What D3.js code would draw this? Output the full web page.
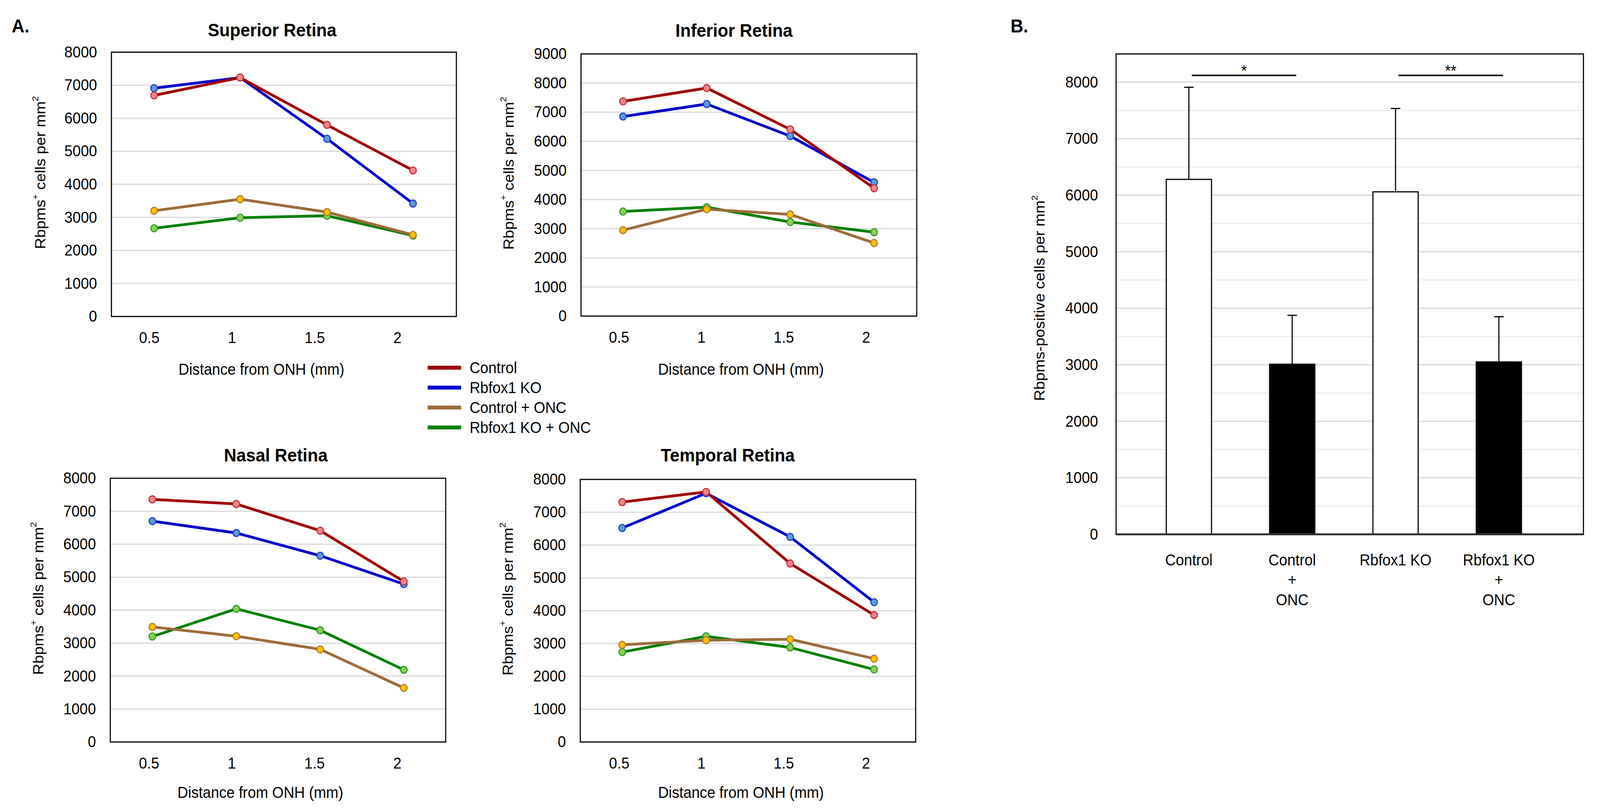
<!DOCTYPE html>
<html>
<head>
<meta charset="utf-8">
<script src="https://cdn.jsdelivr.net/npm/d3@7/dist/d3.min.js"></script>
<style>
  html, body { margin: 0; padding: 0; background: #fff; width: 100%; height: 100%; overflow: hidden; }
  svg { display: block; width: 100vw; height: 100vh; }
  text { font-family: "Liberation Sans", Arial, sans-serif; fill: #000; }
</style>
</head>
<body>
<script>
// ---------- DATA ----------
const distanceTicks = [0.5, 1, 1.5, 2];
const seriesNames = ["Control", "Rbfox1 KO", "Control + ONC", "Rbfox1 KO + ONC"];

// x positions (mm) at which the points sit
const superiorX = [0.53, 1.05, 1.575, 2.095];
const inferiorX = [0.525, 1.033, 1.54, 2.049];
const nasalX    = [0.521, 1.028, 1.535, 2.04];
const temporalX = [0.519, 1.029, 1.54, 2.05];

const superiorControl    = [6690, 7230, 5800, 4420];
const superiorKO         = [6910, 7230, 5380, 3420];
const superiorControlONC = [3200, 3550, 3160, 2470];
const superiorKOONC      = [2670, 2990, 3050, 2450];

const inferiorControl    = [7370, 7830, 6410, 4390];
const inferiorKO         = [6850, 7280, 6180, 4590];
const inferiorControlONC = [2950, 3670, 3490, 2510];
const inferiorKOONC      = [3590, 3740, 3230, 2880];

const nasalControl    = [7360, 7220, 6410, 4870];
const nasalKO         = [6700, 6340, 5650, 4790];
const nasalControlONC = [3490, 3210, 2810, 1640];
const nasalKOONC      = [3200, 4040, 3390, 2190];

const temporalControl    = [7310, 7620, 5440, 3870];
const temporalKO         = [6520, 7580, 6250, 4260];
const temporalControlONC = [2960, 3100, 3130, 2540];
const temporalKOONC      = [2740, 3220, 2880, 2210];

const groupsB = ["Control", "Control + ONC", "Rbfox1 KO", "Rbfox1 KO + ONC"];
const groupLabelLinesB = [["Control"], ["Control", "+", "ONC"], ["Rbfox1 KO"], ["Rbfox1 KO", "+", "ONC"]];
const meansB = [6280, 3010, 6060, 3050];
const errorsB = [1630, 865, 1475, 800];
const sigPairsB = [[0, 1, "*"], [2, 3, "**"]];
const sigLevelB = 8120;

// ---------- STYLE ----------
const lineColors   = ["#a00000", "#0000cc", "#9e6b3a", "#008000"];
const markerFill   = ["#f4868c", "#5b9bd5", "#ffc000", "#8fce4f"];
const markerStroke = ["#c0343c", "#2040d0", "#b07d2d", "#2e9b2e"];
const drawOrder = [3, 2, 1, 0];

const W = 4351, H = 2073;
const svg = d3.select("body").append("svg")
  .attr("viewBox", `0 0 ${W} ${H}`)
  .attr("preserveAspectRatio", "none");
svg.append("rect").attr("width", W).attr("height", H).attr("fill", "#fff");

const FS = 40;

function yTitle(g, x, y, main, sup) {
  const t = g.append("text")
    .attr("transform", `translate(${x},${y}) rotate(-90)`)
    .attr("text-anchor", "middle")
    .attr("dominant-baseline", "central")
    .style("font-size", FS + "px");
  if (Array.isArray(main)) {
    t.append("tspan").text(main[0]);
    t.append("tspan").attr("baseline-shift", "super").style("font-size", "24px").text(main[1]);
    t.append("tspan").text(main[2]);
  } else {
    t.append("tspan").text(main);
  }
  t.append("tspan").attr("baseline-shift", "super").style("font-size", "24px").text(sup);
}

// ---------- PANEL A ----------
const panels = [
  { title: "Superior Retina", xs: superiorX, data: [superiorControl, superiorKO, superiorControlONC, superiorKOONC],
    xDomain: [0.272, 2.357], ymax: 8000, left: 303, right: 1241, top: 133.5, bottom: 810,
    titleX: 740, titleY: 77, xTitleX: 711, xTitleY: 945, yTitleX: 109 },
  { title: "Inferior Retina", xs: inferiorX, data: [inferiorControl, inferiorKO, inferiorControlONC, inferiorKOONC],
    xDomain: [0.27, 2.308], ymax: 9000, left: 1580, right: 2493, top: 138, bottom: 809,
    titleX: 1996, titleY: 78, xTitleX: 2015, xTitleY: 945, yTitleX: 1382 },
  { title: "Nasal Retina", xs: nasalX, data: [nasalControl, nasalKO, nasalControlONC, nasalKOONC],
    xDomain: [0.267, 2.293], ymax: 8000, left: 300, right: 1212, top: 1224, bottom: 1899,
    titleX: 750, titleY: 1165, xTitleX: 708, xTitleY: 2028, yTitleX: 104 },
  { title: "Temporal Retina", xs: temporalX, data: [temporalControl, temporalKO, temporalControlONC, temporalKOONC],
    xDomain: [0.2645, 2.3026], ymax: 8000, left: 1578, right: 2490, top: 1227, bottom: 1899,
    titleX: 1979, titleY: 1165, xTitleX: 2015, xTitleY: 2028, yTitleX: 1380 }
];

panels.forEach(p => {
  const g = svg.append("g");
  const x = d3.scaleLinear().domain(p.xDomain).range([p.left, p.right]);
  const y = d3.scaleLinear().domain([0, p.ymax]).range([p.bottom, p.top]);
  const ticks = d3.range(0, p.ymax + 1, 1000);

  g.append("g").selectAll("line").data(ticks.filter(t => t > 0 && t < p.ymax)).join("line")
    .attr("x1", p.left).attr("x2", p.right)
    .attr("y1", d => y(d)).attr("y2", d => y(d))
    .attr("stroke", "#d9d9d9").attr("stroke-width", 3);

  g.append("rect").attr("x", p.left).attr("y", p.top)
    .attr("width", p.right - p.left).attr("height", p.bottom - p.top)
    .attr("fill", "none").attr("stroke", "#000").attr("stroke-width", 3);

  const ya = g.append("g").attr("transform", `translate(${p.left},0)`)
    .call(d3.axisLeft(y).tickValues(ticks).tickSize(0).tickPadding(39).tickFormat(d3.format("d")));
  ya.select(".domain").remove();
  ya.selectAll("text").style("font-size", FS + "px").style("font-family", "Liberation Sans, Arial, sans-serif").attr("fill", "#000");

  const xa = g.append("g").attr("transform", `translate(0,${p.bottom})`)
    .call(d3.axisBottom(x).tickValues(distanceTicks).tickSize(0).tickPadding(40).tickFormat(d => String(d)));
  xa.select(".domain").remove();
  xa.selectAll("text").style("font-size", FS + "px").style("font-family", "Liberation Sans, Arial, sans-serif").attr("fill", "#000");

  const line = d3.line().x((d, i) => x(p.xs[i])).y(d => y(d));
  drawOrder.forEach(si => {
    g.append("path").datum(p.data[si]).attr("d", line)
      .attr("fill", "none").attr("stroke", lineColors[si]).attr("stroke-width", 7)
      .attr("stroke-linejoin", "round");
  });
  drawOrder.forEach(si => {
    g.append("g").selectAll("circle").data(p.data[si]).join("circle")
      .attr("cx", (d, i) => x(p.xs[i]))
      .attr("cy", d => y(d)).attr("r", 9)
      .attr("fill", markerFill[si]).attr("stroke", markerStroke[si]).attr("stroke-width", 3);
  });

  g.append("text").attr("x", p.titleX).attr("y", p.titleY)
    .attr("text-anchor", "middle").attr("dominant-baseline", "central")
    .style("font-size", "47px").style("font-weight", "bold").text(p.title);
  g.append("text").attr("x", p.xTitleX).attr("y", p.xTitleY)
    .attr("text-anchor", "middle").attr("dominant-baseline", "central")
    .style("font-size", FS + "px").text("Distance from ONH (mm)");
  yTitle(g, p.yTitleX, (p.top + p.bottom) / 2 - 30, ["Rbpms", "+", " cells per mm"], "2");
});

// legend
const legendRows = [941, 992, 1043, 1094];
const lg = svg.append("g");
seriesNames.forEach((name, i) => {
  lg.append("line").attr("x1", 1163).attr("x2", 1254)
    .attr("y1", legendRows[i]).attr("y2", legendRows[i])
    .attr("stroke", lineColors[i]).attr("stroke-width", 10);
  lg.append("text").attr("x", 1277).attr("y", legendRows[i])
    .attr("dominant-baseline", "central").style("font-size", FS + "px").text(name);
});

svg.append("text").attr("x", 32).attr("y", 67).attr("dominant-baseline", "central")
  .style("font-size", "48px").style("font-weight", "bold").text("A.");
svg.append("text").attr("x", 2748).attr("y", 67).attr("dominant-baseline", "central")
  .style("font-size", "48px").style("font-weight", "bold").text("B.");

// ---------- PANEL B ----------
(function () {
  const left = 3035, right = 4306, top = 138, bottom = 1367.5, ymax = 8500;
  const g = svg.append("g");
  const y = d3.scaleLinear().domain([0, ymax]).range([bottom, top]);
  const x = d3.scalePoint().domain(groupsB).range([3233, 4076]);
  const barW = 123;

  const gridVals = d3.range(500, ymax, 500);
  g.append("g").selectAll("line").data(gridVals).join("line")
    .attr("x1", left).attr("x2", right)
    .attr("y1", d => y(d)).attr("y2", d => y(d))
    .attr("stroke", d => d % 1000 === 0 ? "#d9d9d9" : "#e4e4e4")
    .attr("stroke-width", d => d % 1000 === 0 ? 3 : 2);

  g.append("rect").attr("x", left).attr("y", top)
    .attr("width", right - left).attr("height", bottom - top)
    .attr("fill", "none").attr("stroke", "#000").attr("stroke-width", 3);

  const ya = g.append("g").attr("transform", `translate(${left},0)`)
    .call(d3.axisLeft(y).tickValues(d3.range(0, 8001, 1000)).tickSize(0).tickPadding(49).tickFormat(d3.format("d")));
  ya.select(".domain").remove();
  ya.selectAll("text").style("font-size", FS + "px").style("font-family", "Liberation Sans, Arial, sans-serif").attr("fill", "#000");

  const eb = g.append("g");
  groupsB.forEach((grp, i) => {
    const cx = x(grp);
    eb.append("line").attr("x1", cx).attr("x2", cx)
      .attr("y1", y(meansB[i])).attr("y2", y(meansB[i] + errorsB[i]))
      .attr("stroke", "#000").attr("stroke-width", 3);
    eb.append("line").attr("x1", cx - 13).attr("x2", cx + 13)
      .attr("y1", y(meansB[i] + errorsB[i])).attr("y2", y(meansB[i] + errorsB[i]))
      .attr("stroke", "#000").attr("stroke-width", 3);
  });

  g.append("g").selectAll("rect").data(groupsB).join("rect")
    .attr("x", d => x(d) - barW / 2).attr("width", barW)
    .attr("y", (d, i) => y(meansB[i])).attr("height", (d, i) => y(0) - y(meansB[i]))
    .attr("fill", (d, i) => i % 2 === 0 ? "#fff" : "#000")
    .attr("stroke", "#000").attr("stroke-width", 3);

  g.append("line").attr("x1", left).attr("x2", right).attr("y1", bottom).attr("y2", bottom)
    .attr("stroke", "#333").attr("stroke-width", 5);

  sigPairsB.forEach(([a, b, s]) => {
    const x1 = x(groupsB[a]) + 8, x2 = x(groupsB[b]) + 11;
    g.append("line").attr("x1", x1).attr("x2", x2)
      .attr("y1", y(sigLevelB)).attr("y2", y(sigLevelB))
      .attr("stroke", "#000").attr("stroke-width", 4);
    g.append("text").attr("x", (x1 + x2) / 2).attr("y", y(sigLevelB) + 2)
      .attr("text-anchor", "middle").style("font-size", FS + "px").text(s);
  });

  groupsB.forEach((grp, i) => {
    groupLabelLinesB[i].forEach((ln, j) => {
      g.append("text").attr("x", x(grp)).attr("y", 1433 + j * 51)
        .attr("text-anchor", "middle").attr("dominant-baseline", "central")
        .style("font-size", FS + "px").text(ln);
    });
  });

  yTitle(g, 2826, 763, "Rbpms-positive cells per mm", "2");
})();
</script>
</body>
</html>
